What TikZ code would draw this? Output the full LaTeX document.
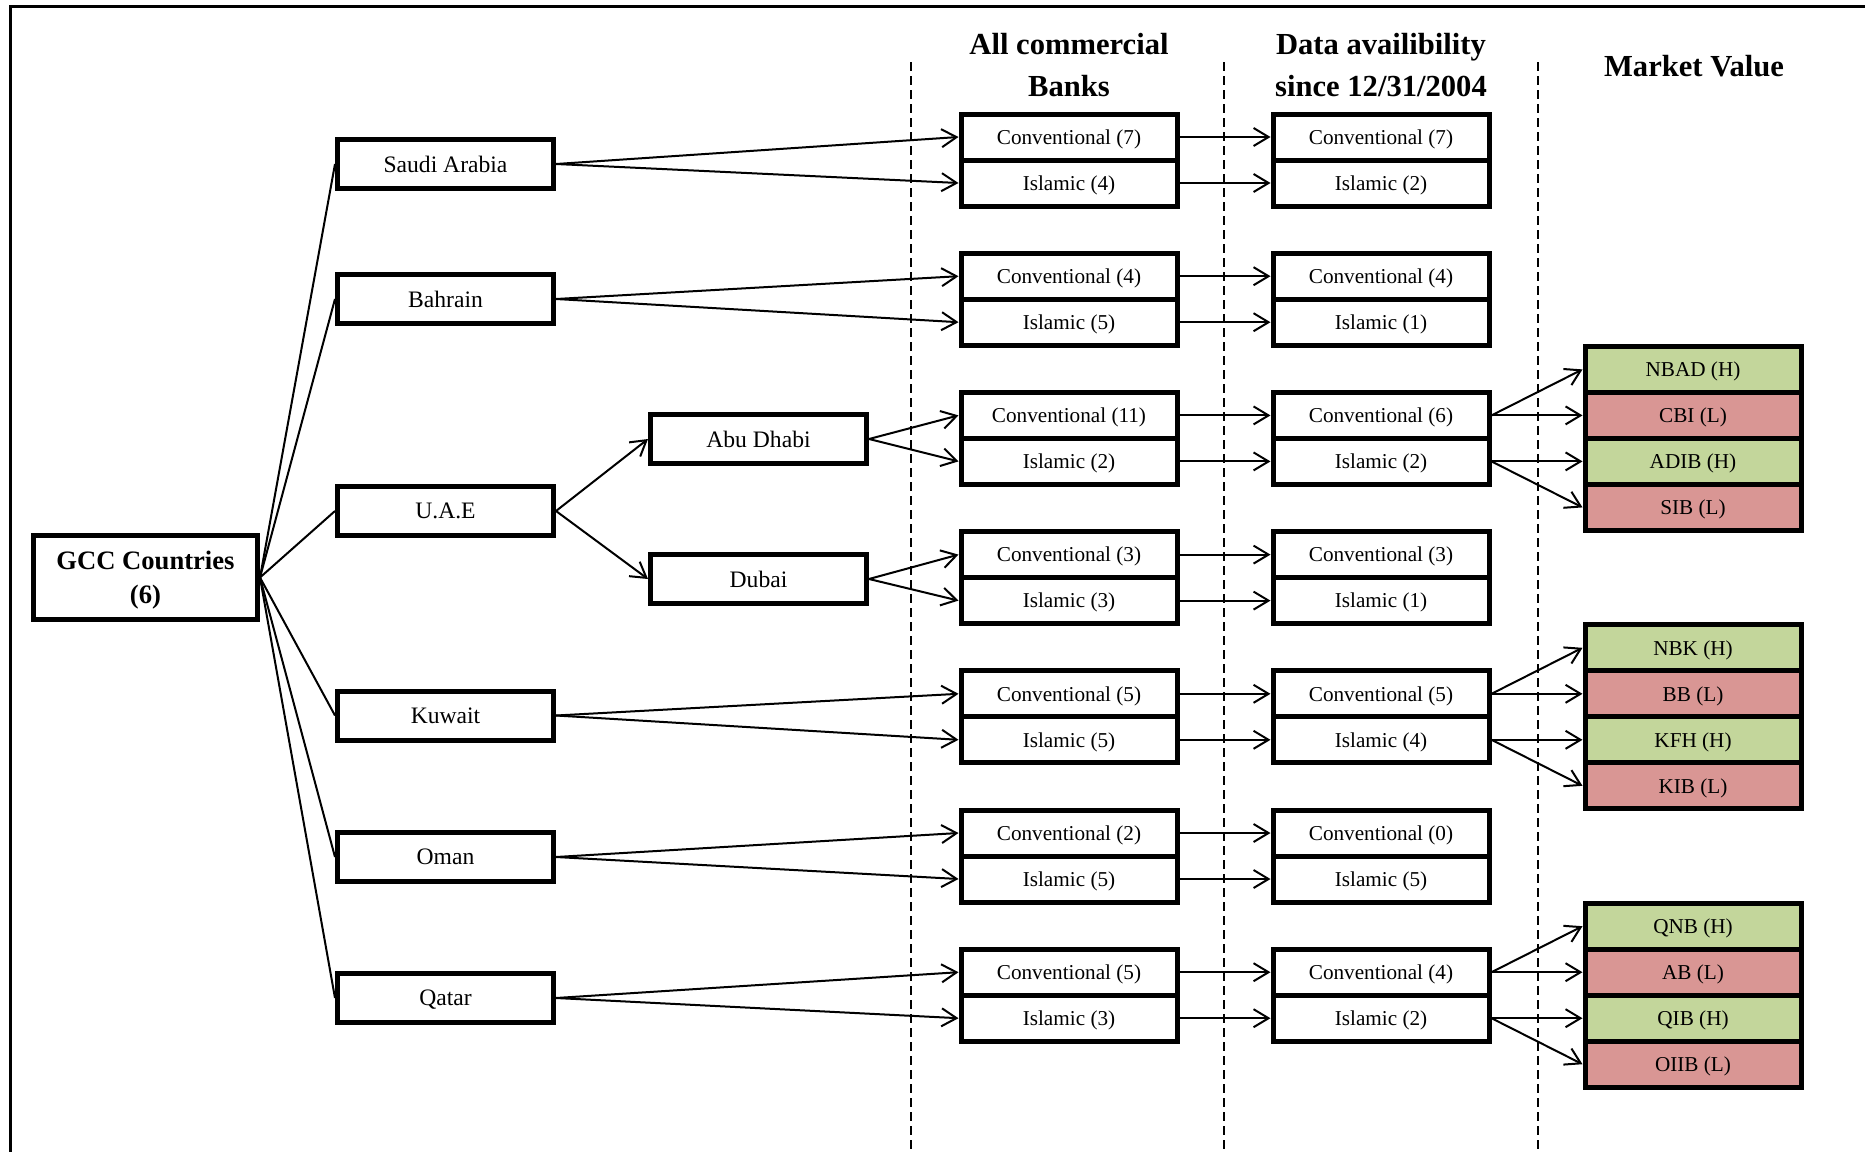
\documentclass[tikz,border=0pt]{standalone}
\usepackage{fontspec}
\setmainfont{Liberation Serif}
\usetikzlibrary{arrows.meta}
\definecolor{highv}{HTML}{C3D69B}
\definecolor{lowv}{HTML}{D99694}

\begin{document}
\begin{tikzpicture}[x=0.5pt,y=-0.5pt,
               box/.style={draw,line width=2.5pt,minimum width=108pt,minimum height=23pt,inner sep=0pt,text depth=0pt,font=\fontsize{10.6}{12}\selectfont},
               cbox/.style={box,minimum height=24.5pt,font=\fontsize{11.8}{13}\selectfont},
               link/.style={line width=1pt},
               arr/.style={link,-{Straight Barb[length=7.5pt,width=9pt]}},
               head/.style={align=center,font=\fontsize{15.3}{21}\selectfont\bfseries},
               sep/.style={dash pattern=on 4.5pt off 2.5pt,line width=0.6pt}]
               \useasboundingbox (0,0) rectangle (1865,1152);
               \draw[line width=1.2pt] (10.5,1152) -- (10.5,6.5) -- (1865,6.5);
               \draw[sep] (911,62) -- (911,1152);
               \draw[sep] (1224,62) -- (1224,1152);
               \draw[sep] (1538,62) -- (1538,1152);
               \node[head] (allb) at (1069,65) {All commercial\\Banks};
               \node[head] (data) at (1381,65) {Data availibility\\since 12/31/2004};
               \node[head] (mval) at (1694,66) {Market Value};
               \node[box,minimum width=112pt,minimum height=42pt,align=center,text depth=-8pt,font=\fontsize{13.3}{17}\selectfont\bfseries] (gcc) at (145.5,577.5) {GCC Countries\\(6)};
               \foreach \nm/\txt/\yy in {sa/Saudi Arabia/164,bh/Bahrain/299,ae/U.A.E/511,kw/Kuwait/715.5,om/Oman/857,qa/Qatar/998}{
                  \node[cbox] (\nm) at (445.5,\yy) {\txt};
                  \draw[link] (gcc.east) -- (\nm.west);
               }
               \node[cbox] (ad) at (758.5,439) {Abu Dhabi};
               \node[cbox] (db) at (758.5,579) {Dubai};
               \draw[arr] (ae.east) -- (ad.west);
               \draw[arr] (ae.east) -- (db.west);
               \foreach \g/\yy/\ca/\ia/\cb/\ib in {sa/137/7/4/7/2,bh/276.2/4/5/4/1,ad/415.4/11/2/6/2,db/554.6/3/3/3/1,kw/693.8/5/5/5/4,om/833/2/5/0/5,qa/972.2/5/3/4/2}{
                  \node[box] (\g-c1) at (1069,\yy) {Conventional (\ca)};
                  \node[box] (\g-i1) at (1069,\yy+46) {Islamic (\ia)};
                  \node[box] (\g-c2) at (1381,\yy) {Conventional (\cb)};
                  \node[box] (\g-i2) at (1381,\yy+46) {Islamic (\ib)};
                  \draw[arr] (\g.east) -- (\g-c1.west);
                  \draw[arr] (\g.east) -- (\g-i1.west);
                  \draw[arr] (\g-c1.east) -- (\g-c2.west);
                  \draw[arr] (\g-i1.east) -- (\g-i2.west);
               }
               \foreach \g/\yy/\ma/\mb/\mc/\md in {ad/415.4/NBAD/CBI/ADIB/SIB,kw/693.8/NBK/BB/KFH/KIB,qa/972.2/QNB/AB/QIB/OIIB}{
                  \node[box,fill=highv] (\g-m1) at (1693,\yy-46) {\ma\ (H)};
                  \node[box,fill=lowv] (\g-m2) at (1693,\yy) {\mb\ (L)};
                  \node[box,fill=highv] (\g-m3) at (1693,\yy+46) {\mc\ (H)};
                  \node[box,fill=lowv] (\g-m4) at (1693,\yy+92) {\md\ (L)};
                  \draw[arr] (\g-c2.east) -- (\g-m1.west);
                  \draw[arr] (\g-c2.east) -- (\g-m2.west);
                  \draw[arr] (\g-i2.east) -- (\g-m3.west);
                  \draw[arr] (\g-i2.east) -- (\g-m4.west);
               }
            \end{tikzpicture}
\end{document}
